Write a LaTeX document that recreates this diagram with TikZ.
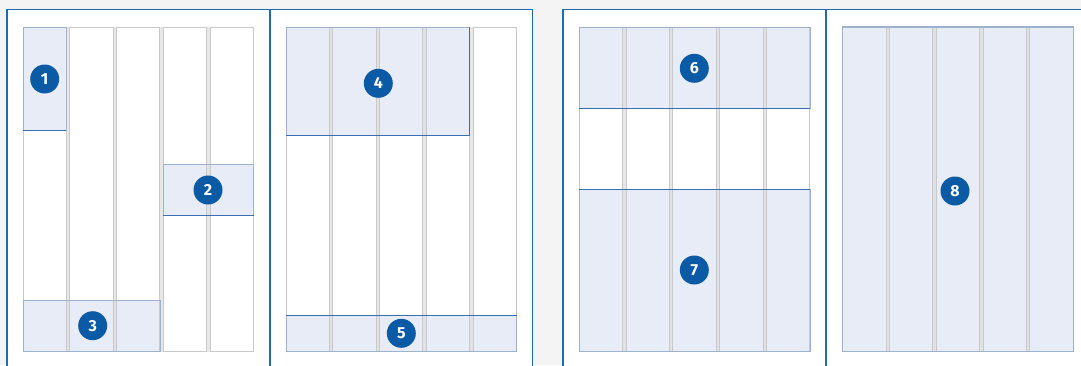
\documentclass[tikz,border=0pt]{standalone}
\usepackage{fontspec}
\setsansfont{Fira Sans}
\definecolor{bgc}{HTML}{F4F4F4}
\definecolor{boxfill}{HTML}{E8ECF7}
\definecolor{boxedge}{HTML}{9DB3CC}
\definecolor{darkedge}{HTML}{3470B2}
\definecolor{pagec}{HTML}{1F6AB0}
\definecolor{circc}{HTML}{0B5AA6}
\definecolor{colc}{HTML}{C9C9C9}
\definecolor{gutc}{HTML}{DDDDDD}
\tikzset{
  pageline/.style={draw=pagec, line width=1.2pt},
  spineline/.style={draw=pagec, line width=1.5pt},
  colline/.style={draw=colc, line width=0.9pt},
  gutterfill/.style={fill=gutc, fill opacity=0.7},
  boxarea/.style={fill=boxfill},
  boxline/.style={draw=boxedge, line width=1pt},
  darkline/.style={draw=darkedge, line width=0.9pt},
  numdot/.style={circle, fill=circc, text=white, minimum size=29pt, inner sep=0pt,
    font=\sffamily\bfseries\fontsize{16}{16}\selectfont}
}
\newcommand\mygrid[1]{%
  \foreach \i in {0,...,3} {%
    \pgfmathsetmacro\xa{#1+\i*46.8+43.3}%
    \pgfmathsetmacro\xb{#1+(\i+1)*46.8}%
    \path[gutterfill] (\xa,27) rectangle (\xb,351.5);
  }%
  \foreach \i in {0,...,4} {%
    \pgfmathsetmacro\xa{#1+\i*46.8}%
    \pgfmathsetmacro\xb{#1+\i*46.8+43.3}%
    \draw[colline] (\xa,27) rectangle (\xb,351.5);
  }%
}
\begin{document}
\begin{tikzpicture}[x=1pt,y=-1pt]
\useasboundingbox (0,0) rectangle (1081,365);
\clip (0,0) rectangle (1081,365);
\fill[bgc] (0,0) rectangle (1081,365);
% pages
\fill[white] (7,9.5) rectangle (532.5,380);
\fill[white] (563,9.5) rectangle (1100,380);
% box fills
\path[boxarea] (23,27) rectangle (66.3,130);
\path[boxarea] (163.4,164) rectangle (253.5,215);
\path[boxarea] (23,300) rectangle (160,351.5);
\path[boxarea] (286,27) rectangle (469.6,135);
\path[boxarea] (286,315) rectangle (516.5,351.5);
\path[boxarea] (579.3,27) rectangle (810,108.3);
\path[boxarea] (579.3,189) rectangle (810,351.5);
\path[boxarea] (842.7,27) rectangle (1073.3,351.5);
% grids
\mygrid{23}
\mygrid{286}
\mygrid{579.3}
\mygrid{842.7}
% box edges
\draw[boxline] (23,27) rectangle (66.3,130);
\draw[darkline] (23,130) -- (66.3,130);
\draw[boxline] (163.4,164) rectangle (253.5,215);
\draw[darkline] (163.4,215) -- (253.5,215);
\draw[boxline] (23,300) rectangle (160,351.5);
\draw[boxline] (286,27) rectangle (469.6,135);
\draw[darkline] (469.6,27) -- (469.6,135) -- (286,135);
\draw[boxline] (286,315) rectangle (516.5,351.5);
\draw[darkline] (286,315) -- (516.5,315);
\draw[boxline] (579.3,27) rectangle (810,108.3);
\draw[darkline] (579.3,108.3) -- (810,108.3);
\draw[boxline] (579.3,189) rectangle (810,351.5);
\draw[darkline] (579.3,189) -- (810,189);
\draw[boxline, line width=1.4pt] (842.7,27) rectangle (1073.3,351.5);
% page borders
\draw[pageline] (7,380) -- (7,9.5) -- (532.5,9.5) -- (532.5,380);
\draw[spineline] (270,9.5) -- (270,380);
\draw[pageline] (563,380) -- (563,9.5) -- (1100,9.5);
\draw[spineline] (826,9.5) -- (826,380);
% numbers
\node[numdot] (c1) at (44.7,79) {1};
\node[numdot] (c2) at (208,190) {2};
\node[numdot] (c3) at (92.7,325.7) {3};
\node[numdot] (c4) at (378.3,83.3) {4};
\node[numdot] (c5) at (401.3,333.3) {5};
\node[numdot] (c6) at (694.3,68.3) {6};
\node[numdot] (c7) at (694.3,270) {7};
\node[numdot] (c8) at (955,191) {8};
\end{tikzpicture}
\end{document}
